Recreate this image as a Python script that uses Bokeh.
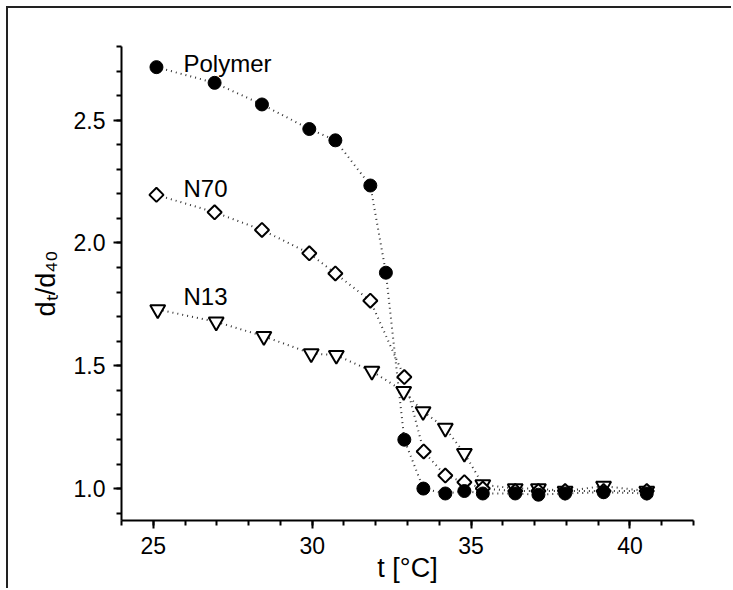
from bokeh.plotting import figure
from bokeh.models import FixedTicker, Label
from bokeh.embed import file_html
from bokeh.resources import INLINE

# ---- data ----
t_polymer = [25.10, 26.93, 28.42, 29.91, 30.73, 31.83, 32.32, 32.90, 33.50,
             34.19, 34.79, 35.37, 36.39, 37.12, 37.96, 39.17, 40.53]
d_polymer = [2.716, 2.652, 2.564, 2.464, 2.418, 2.234, 1.879, 1.199, 1.00,
             0.98, 0.99, 0.98, 0.98, 0.975, 0.98, 0.985, 0.98]

t_n70 = [25.10, 26.93, 28.42, 29.91, 30.73, 31.83, 32.90, 33.51, 34.19,
         34.79, 35.37, 36.39, 37.12, 37.96, 39.17, 40.53]
d_n70 = [2.196, 2.125, 2.053, 1.958, 1.876, 1.765, 1.454, 1.151, 1.053,
         1.026, 1.00, 0.99, 0.99, 0.99, 0.99, 0.99]

t_n13 = [25.14, 26.98, 28.48, 29.97, 30.76, 31.88, 32.88, 33.49, 34.19,
         34.79, 35.37, 36.39, 37.12, 37.96, 39.17, 40.53]
d_n13 = [1.729, 1.679, 1.620, 1.550, 1.543, 1.478, 1.396, 1.314, 1.246,
         1.144, 1.016, 1.00, 1.00, 0.99, 1.01, 0.99]

x_major = [25, 30, 35, 40]
x_minor = list(range(24, 43))
y_major = [1.0, 1.5, 2.0, 2.5]
y_minor = [round(0.9 + 0.1 * i, 1) for i in range(20)]
y_tick_labels = {1.0: "1.0", 1.5: "1.5", 2.0: "2.0", 2.5: "2.5"}

FONT = "Liberation Sans"

p = figure(width=725, height=582, x_range=(24, 42), y_range=(0.87, 2.80),
           output_backend="svg", toolbar_location=None,
           min_border_left=113, min_border_right=40,
           min_border_top=38, min_border_bottom=70)
p.margin = (6, 0, 0, 6)
p.styles = {"border-left": "2px solid #222", "border-top": "2px solid #222"}

p.outline_line_color = None
p.xgrid.grid_line_color = None
p.ygrid.grid_line_color = None
p.background_fill_color = "white"
p.border_fill_color = "white"

for ax in (p.xaxis[0], p.yaxis[0]):
    ax.axis_line_width = 2
    ax.axis_line_color = "black"
    ax.major_tick_line_width = 2
    ax.minor_tick_line_width = 2
    ax.major_tick_out = 8
    ax.major_tick_in = 0
    ax.minor_tick_out = 5
    ax.minor_tick_in = 0
    ax.major_label_text_font = FONT
    ax.major_label_text_font_size = "23px"
    ax.major_label_text_color = "black"
    ax.axis_label_text_font = FONT
    ax.axis_label_text_font_style = "normal"
    ax.axis_label_text_font_size = "27px"
    ax.axis_label_text_color = "black"

p.xaxis.ticker = FixedTicker(ticks=x_major, minor_ticks=x_minor)
p.yaxis.ticker = FixedTicker(ticks=y_major, minor_ticks=y_minor)
p.yaxis.major_label_overrides = y_tick_labels
p.xaxis.major_label_standoff = 8
p.yaxis.major_label_standoff = 8
p.xaxis.axis_label = "t [°C]"
p.yaxis.axis_label = "dₜ/d₄₀"
p.xaxis.axis_label_standoff = -4
p.yaxis.axis_label_standoff = 10

line_kw = dict(line_color="#333", line_width=2, line_dash="1 4")
p.line(t_n13, d_n13, **line_kw)
p.line(t_n70, d_n70, **line_kw)
p.line(t_polymer, d_polymer, **line_kw)

p.scatter(t_n13, d_n13, marker="inverted_triangle", size=15,
          fill_color="white", line_color="black", line_width=2)
p.scatter(t_n70, d_n70, marker="square", angle=0.785398, size=10,
          fill_color="white", line_color="black", line_width=2)
p.scatter(t_polymer, d_polymer, marker="circle", size=13,
          fill_color="black", line_color="black", line_width=1)

for txt, yy in (("Polymer", 2.73), ("N70", 2.22), ("N13", 1.784)):
    p.add_layout(Label(x=25.95, y=yy, text=txt, text_baseline="middle",
                       text_font=FONT, text_font_size="24px",
                       text_color="black"))

open("out.html", "w").write(file_html(p, INLINE))
